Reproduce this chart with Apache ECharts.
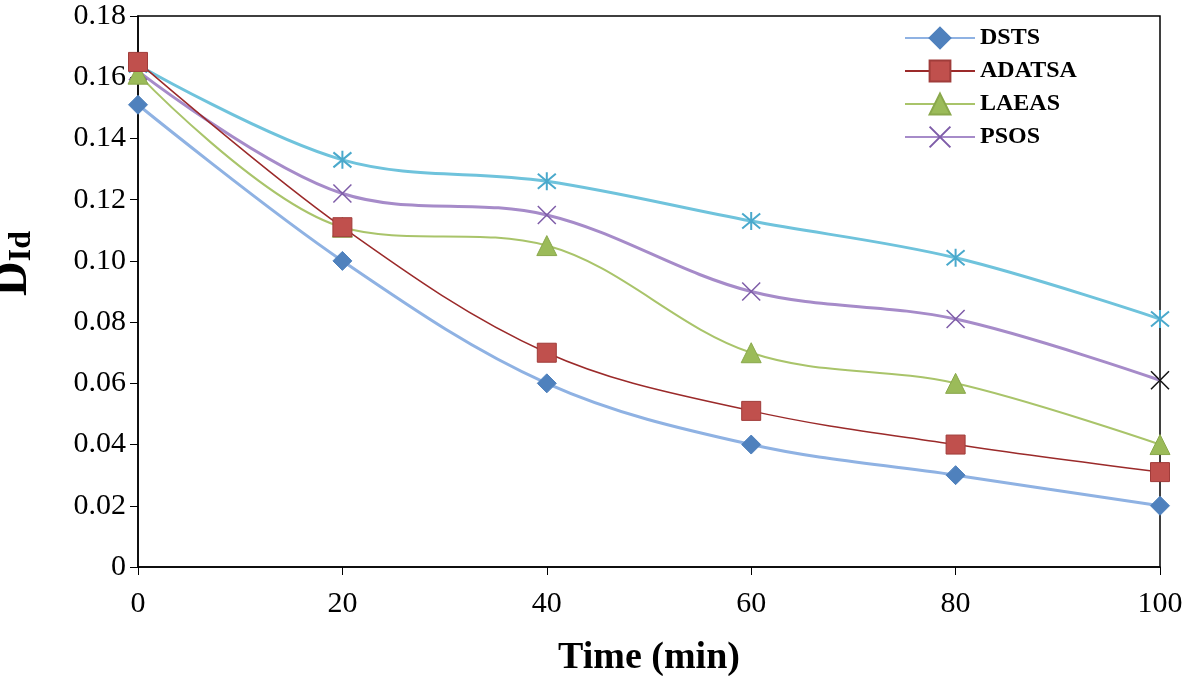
<!DOCTYPE html>
<html>
<head>
<meta charset="utf-8">
<script src="https://cdn.jsdelivr.net/npm/echarts@6/dist/echarts.min.js"></script>
<style>html,body{margin:0;padding:0;background:#fff}#c{width:1184px;height:676px}</style>
</head>
<body>
<div id="c"></div>
<script>
const times = [0, 20, 40, 60, 80, 100];
const dsts   = [0.151, 0.100, 0.060, 0.040, 0.030, 0.020];
const adatsa = [0.165, 0.111, 0.070, 0.051, 0.040, 0.031];
const laeas  = [0.161, 0.111, 0.105, 0.070, 0.060, 0.040];
const psos   = [0.162, 0.122, 0.115, 0.090, 0.081, 0.061];
const fifth  = [0.164, 0.133, 0.126, 0.113, 0.101, 0.081];
const legendNames = ['DSTS', 'ADATSA', 'LAEAS', 'PSOS'];

const pair = arr => times.map((t, i) => [t, arr[i]]);
const X_PATH = 'path://M0,0L10,10M10,0L0,10';
const STAR_PATH = 'path://M0,0L10,10M10,0L0,10M5,-1L5,11';
const serif = '"Liberation Serif", "DejaVu Serif", serif';

const chart = echarts.init(document.getElementById('c'));
chart.setOption({
  animation: false,
  grid: { left: 138, right: 24, top: 16, bottom: 109, outerBoundsMode: 'none', containLabel: false,
          show: true, borderColor: '#000', borderWidth: 1.5, backgroundColor: 'transparent' },
  legend: {
    data: legendNames,
    orient: 'vertical',
    left: 899, top: 21,
    itemWidth: 70, itemHeight: 26, itemGap: 9,
    textStyle: { fontFamily: serif, fontWeight: 'bold', fontSize: 24, color: '#000' }
  },
  xAxis: {
    type: 'value', min: 0, max: 100, interval: 20,
    name: 'Time (min)', nameLocation: 'middle', nameGap: 72,
    nameTextStyle: { fontFamily: serif, fontWeight: 'bold', fontSize: 38, color: '#000' },
    axisLine: { lineStyle: { color: '#000', width: 1.5 } },
    axisTick: { show: true, length: 8, lineStyle: { color: '#000' } },
    axisLabel: { fontFamily: serif, fontSize: 30, color: '#000', margin: 22 },
    splitLine: { show: false }
  },
  yAxis: {
    type: 'value', min: 0, max: 0.18, interval: 0.02,
    name: '{a|D}{b|Id}', nameLocation: 'middle', nameGap: 100,
    nameTextStyle: { padding: [0, 0, 0, 56], rich: {
      a: { fontFamily: serif, fontWeight: 'bold', fontSize: 48, color: '#000' },
      b: { fontFamily: serif, fontWeight: 'bold', fontSize: 32, color: '#000', verticalAlign: 'bottom', padding: [16, 0, 0, 0] }
    } },
    axisLine: { show: true, lineStyle: { color: '#000', width: 1.5 } },
    axisTick: { show: true, length: 8, lineStyle: { color: '#000' } },
    axisLabel: { fontFamily: serif, fontSize: 30, color: '#000', margin: 12,
      formatter: v => v === 0 ? '0' : v.toFixed(2) },
    splitLine: { show: false }
  },
  series: [
    { name: 'fifth', type: 'line', smooth: 0.35, data: pair(fifth),
      symbol: STAR_PATH, symbolSize: 18,
      lineStyle: { color: '#6fc3dc', width: 3 },
      itemStyle: { color: 'rgba(0,0,0,0)', borderColor: '#4aa9cc', borderWidth: 2 } },
    { name: 'PSOS', type: 'line', smooth: 0.35,
      data: pair(psos).map((p, i) => i === times.length - 1 ? { value: p, itemStyle: { borderColor: '#111' } } : p),
      symbol: X_PATH, symbolSize: 18,
      lineStyle: { color: '#a68bc9', width: 3 },
      itemStyle: { color: 'rgba(0,0,0,0)', borderColor: '#7e5ca8', borderWidth: 1.5 } },
    { name: 'LAEAS', type: 'line', smooth: 0.35, data: pair(laeas),
      symbol: 'triangle', symbolSize: 20,
      lineStyle: { color: '#a9c46a', width: 2 },
      itemStyle: { color: '#9bbb59', borderColor: '#8aa84c', borderWidth: 1 } },
    { name: 'ADATSA', type: 'line', smooth: 0.35, data: pair(adatsa),
      symbol: 'rect', symbolSize: 19,
      lineStyle: { color: '#9b2a2a', width: 1.5 },
      itemStyle: { color: '#c0504d', borderColor: '#a03c3a', borderWidth: 1 } },
    { name: 'DSTS', type: 'line', smooth: 0.35, data: pair(dsts),
      symbol: 'diamond', symbolSize: 19,
      lineStyle: { color: '#8fb2e3', width: 3 },
      itemStyle: { color: '#4f81bd', borderColor: '#4f81bd', borderWidth: 1 } }
  ]
});
</script>
</body>
</html>
